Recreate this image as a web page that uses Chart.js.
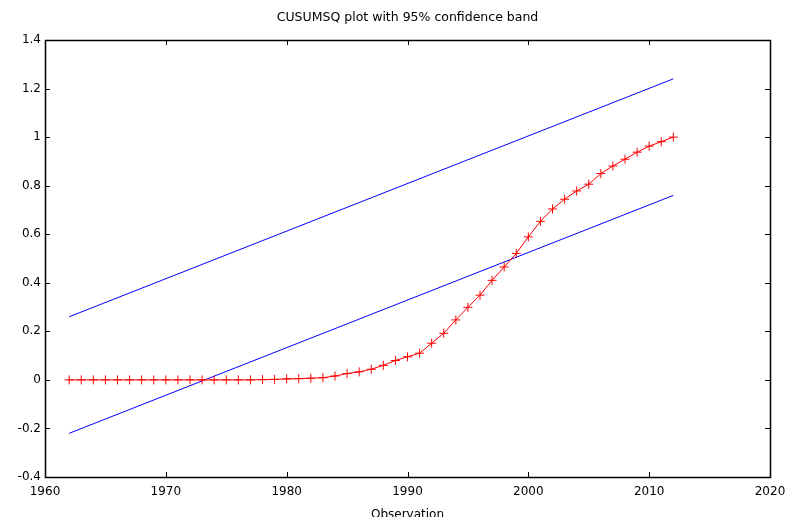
<!DOCTYPE html>
<html>
<head>
<meta charset="utf-8">
<script src="https://cdn.jsdelivr.net/npm/chart.js@4/dist/chart.umd.min.js"></script>
<style>
  html, body { margin: 0; padding: 0; background: #fff; }
  #chart { display: block; }
</style>
</head>
<body>
<canvas id="chart" width="787" height="517"></canvas>
<script>
// observation years and CUSUMSQ values
const years = [1962, 1963, 1964, 1965, 1966, 1967, 1968, 1969, 1970, 1971,
               1972, 1973, 1974, 1975, 1976, 1977, 1978, 1979, 1980, 1981,
               1982, 1983, 1984, 1985, 1986, 1987, 1988, 1989, 1990, 1991,
               1992, 1993, 1994, 1995, 1996, 1997, 1998, 1999, 2000, 2001,
               2002, 2003, 2004, 2005, 2006, 2007, 2008, 2009, 2010, 2011, 2012];
const cusumsq = [0, 0, 0, 0, 0, 0, 0, 0, 0, 0,
                 0, 0, 0, 0, 0, 0, 0.001, 0.002, 0.004, 0.005,
                 0.007, 0.009, 0.016, 0.026, 0.033, 0.044, 0.06, 0.08, 0.095, 0.11,
                 0.151, 0.192, 0.247, 0.299, 0.349, 0.41, 0.465, 0.521, 0.589, 0.653,
                 0.704, 0.744, 0.778, 0.806, 0.85, 0.881, 0.909, 0.938, 0.963, 0.981, 1.0];

// 95% confidence band (straight lines between the end years)
const bandYears = [1962, 2012];
const bandUpper = [0.26, 1.24];
const bandLower = [-0.22, 0.76];

// tick labels
const xTicks = [1960, 1970, 1980, 1990, 2000, 2010, 2020];
const yTicks = [-0.4, -0.2, 0, 0.2, 0.4, 0.6, 0.8, 1, 1.2, 1.4];

const titleText = 'CUSUMSQ plot with 95% confidence band';
const xTitle = 'Observation';
const fontFamily = '"DejaVu Sans", Verdana, sans-serif';

function toPoints(xs, ys) {
    return xs.map(function (x, i) { return { x: x, y: ys[i] }; });
}

// gnuplot-like frame: border box, inward mirrored ticks, titles
const framePlugin = {
    id: 'frame',
    beforeDraw: function (chart) {
        const ctx = chart.ctx;
        ctx.save();
        ctx.fillStyle = '#fff';
        ctx.fillRect(0, 0, chart.width, chart.height);
        ctx.restore();
    },
    afterDraw: function (chart) {
        const ctx = chart.ctx;
        const a = chart.chartArea;
        const xs = chart.scales.x;
        const ys = chart.scales.y;
        const tick = 5;
        ctx.save();
        ctx.strokeStyle = '#000';
        ctx.lineWidth = 1;
        ctx.beginPath();
        xTicks.forEach(function (v) {
            const px = Math.round(xs.getPixelForValue(v)) + 0.5;
            ctx.moveTo(px, a.bottom);
            ctx.lineTo(px, a.bottom - tick);
            ctx.moveTo(px, a.top);
            ctx.lineTo(px, a.top + tick);
        });
        yTicks.forEach(function (v) {
            const py = Math.round(ys.getPixelForValue(v)) + 0.5;
            ctx.moveTo(a.left, py);
            ctx.lineTo(a.left + tick, py);
            ctx.moveTo(a.right, py);
            ctx.lineTo(a.right - tick, py);
        });
        ctx.stroke();
        ctx.lineWidth = 1.5;
        ctx.strokeRect(Math.round(a.left) + 0.5, Math.round(a.top) + 0.5,
                       Math.round(a.right - a.left), Math.round(a.bottom - a.top));

        ctx.fillStyle = '#000';
        ctx.font = '12.5px ' + fontFamily;
        ctx.textAlign = 'center';
        ctx.textBaseline = 'middle';
        const cx = (a.left + a.right) / 2;
        ctx.fillText(titleText, cx, 18);
        ctx.font = '12px ' + fontFamily;
        ctx.fillText(xTitle, cx, 515);
        ctx.restore();
    }
};

const ctx = document.getElementById('chart');
new Chart(ctx, {
    type: 'line',
    data: {
        datasets: [
            {
                label: 'CUSUMSQ',
                data: toPoints(years, cusumsq),
                borderColor: 'rgb(255, 0, 0)',
                backgroundColor: 'rgb(255, 0, 0)',
                borderWidth: 1,
                pointStyle: 'cross',
                pointRadius: 4.5,
                pointBorderWidth: 1,
                pointBorderColor: 'rgb(255, 0, 0)',
                tension: 0
            },
            {
                label: 'Upper',
                data: toPoints(bandYears, bandUpper),
                borderColor: 'rgb(0, 0, 255)',
                borderWidth: 1,
                pointRadius: 0
            },
            {
                label: 'Lower',
                data: toPoints(bandYears, bandLower),
                borderColor: 'rgb(0, 0, 255)',
                borderWidth: 1,
                pointRadius: 0
            }
        ]
    },
    options: {
        responsive: false,
        animation: false,
        layout: {
            padding: { left: 0, right: 17, top: 40, bottom: 0 }
        },
        plugins: {
            legend: { display: false },
            title: { display: false },
            tooltip: { enabled: false }
        },
        scales: {
            x: {
                type: 'linear',
                min: 1960,
                max: 2020,
                afterBuildTicks: function (scale) {
                    scale.ticks = xTicks.map(function (v) { return { value: v }; });
                },
                afterFit: function (scale) {
                    scale.height = 40;
                    scale.paddingLeft = 0;
                    scale.paddingRight = 0;
                },
                grid: { display: false, drawTicks: false },
                border: { display: false },
                ticks: {
                    padding: 8,
                    color: '#000',
                    font: { family: fontFamily, size: 12 },
                    maxRotation: 0,
                    autoSkip: false,
                    callback: function (v) { return String(v); }
                }
            },
            y: {
                type: 'linear',
                min: -0.4,
                max: 1.4,
                afterBuildTicks: function (scale) {
                    scale.ticks = yTicks.map(function (v) { return { value: v }; });
                },
                afterFit: function (scale) {
                    scale.width = 45;
                    scale.paddingTop = 0;
                    scale.paddingBottom = 0;
                },
                grid: { display: false, drawTicks: false },
                border: { display: false },
                ticks: {
                    padding: 4,
                    color: '#000',
                    font: { family: fontFamily, size: 12 },
                    callback: function (v) { return String(Number(v.toFixed(1))); }
                }
            }
        }
    },
    plugins: [framePlugin]
});
</script>
</body>
</html>
